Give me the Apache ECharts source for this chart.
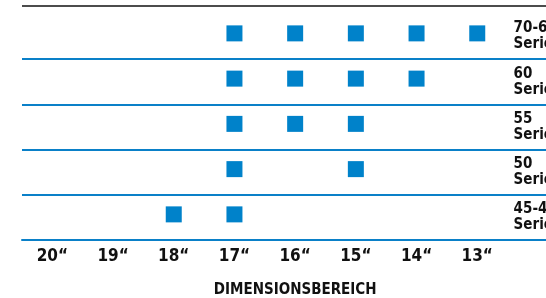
<!DOCTYPE html>
<html>
<head>
<meta charset="utf-8">
<script src="https://cdn.jsdelivr.net/npm/echarts@6/dist/echarts.min.js"></script>
<style>
  html, body { margin: 0; padding: 0; background: #fff; }
  #chart { width: 546px; height: 298px; }
</style>
</head>
<body>
<div id="chart"></div>
<script>
// Spalten (Zoll) - die letzte leere Spalte traegt nur die Serienbeschriftung
var sizes = ["20\u201c", "19\u201c", "18\u201c", "17\u201c", "16\u201c", "15\u201c", "14\u201c", "13\u201c", ""];
// Serien von unten nach oben
var seriesNames = ["45-40\nSerie", "50\nSerie", "55\nSerie", "60\nSerie", "70-65\nSerie"];
// welche Groessen gibt es pro Serie
var row4540 = ["18\u201c", "17\u201c"];
var row50 = ["17\u201c", "15\u201c"];
var row55 = ["17\u201c", "16\u201c", "15\u201c"];
var row60 = ["17\u201c", "16\u201c", "15\u201c", "14\u201c"];
var row7065 = ["17\u201c", "16\u201c", "15\u201c", "14\u201c", "13\u201c"];

var rows = [row4540, row50, row55, row60, row7065];
var points = [];
for (var i = 0; i < rows.length; i++) {
  for (var j = 0; j < rows[i].length; j++) {
    points.push([rows[i][j], seriesNames[i]]);
  }
}

var font = "'Liberation Sans Narrow', 'DejaVu Sans Condensed', 'Liberation Sans', sans-serif";
var blue = "#0a80c8";
var bandW = 60.7;

var myChart = echarts.init(document.getElementById("chart"));
var option = {
  animation: false,
  grid: {
    left: 22, top: 13.75, width: bandW * sizes.length, height: 226.25,
    containLabel: false, outerBoundsMode: "none"
  },
  xAxis: {
    type: "category",
    data: sizes,
    axisLine: { show: true, lineStyle: { color: blue, width: 2 } },
    axisTick: { show: false },
    axisLabel: { color: "#111", fontFamily: font, fontWeight: "bold", fontSize: 17, margin: 8 },
    name: "DIMENSIONSBEREICH",
    nameLocation: "middle",
    nameGap: 43,
    nameTextStyle: { color: "#111", fontFamily: font, fontWeight: "bold", fontSize: 15 }
  },
  yAxis: {
    type: "category",
    data: seriesNames,
    position: "right",
    offset: -bandW,
    axisLine: { show: false },
    axisTick: { show: false },
    splitLine: { show: true, showMaxLine: false, lineStyle: { color: blue, width: 2 } },
    axisLabel: { color: "#111", fontFamily: font, fontWeight: "bold", fontSize: 15, lineHeight: 16, margin: 6, align: "left" }
  },
  graphic: [
    { type: "line", shape: { x1: 22, y1: 6, x2: 546, y2: 6 }, style: { stroke: "#111", lineWidth: 1.5 } }
  ],
  series: [
    {
      type: "scatter",
      symbol: "rect",
      symbolSize: 16,
      symbolOffset: [0, -3],
      itemStyle: { color: "#0082ca", opacity: 1 },
      data: points
    }
  ]
};
myChart.setOption(option);
</script>
</body>
</html>
